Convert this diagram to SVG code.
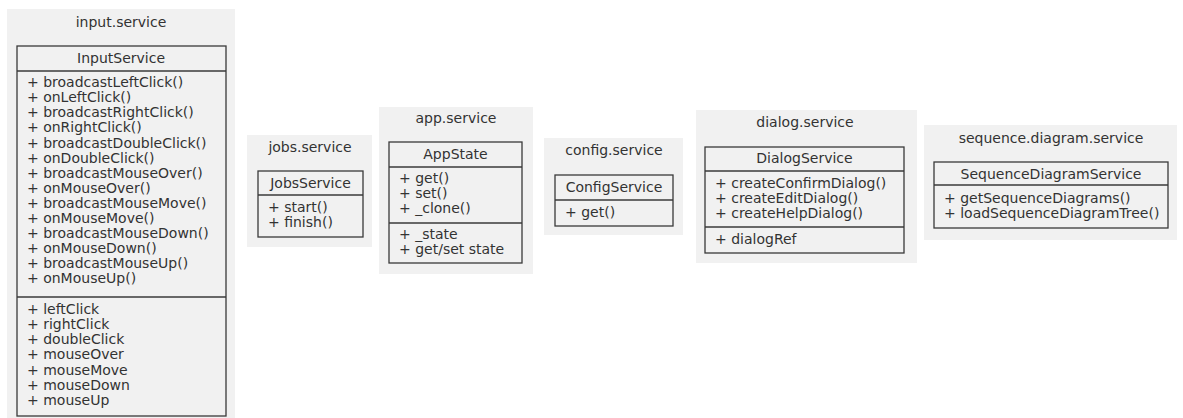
<svg xmlns="http://www.w3.org/2000/svg" width="1183" height="418" viewBox="0 0 1183 418">
<style>
.pkg{fill:#f1f1f1;stroke:none}
.box{fill:#f1f1f1;stroke:#3a3a3a;stroke-width:1.3}
.sep{stroke:#3a3a3a;stroke-width:1.3}
text{font-family:"DejaVu Sans",sans-serif;font-size:14px;fill:#333}
.c{text-anchor:middle}
</style>
<rect width="1183" height="418" fill="#fff"/>
<g id="input-service">
<rect class="pkg" x="7" y="9" width="228" height="412"/>
<text class="c" x="121" y="27">input.service</text>
<rect class="box" x="17" y="46" width="209" height="370"/>
<line class="sep" x1="17" y1="71" x2="226" y2="71"/>
<line class="sep" x1="17" y1="297" x2="226" y2="297"/>
<text class="c" x="121" y="63">InputService</text>
<text x="27" y="87">+ broadcastLeftClick()</text>
<text x="27" y="102">+ onLeftClick()</text>
<text x="27" y="117">+ broadcastRightClick()</text>
<text x="27" y="132">+ onRightClick()</text>
<text x="27" y="147.5">+ broadcastDoubleClick()</text>
<text x="27" y="162.5">+ onDoubleClick()</text>
<text x="27" y="177.5">+ broadcastMouseOver()</text>
<text x="27" y="192.5">+ onMouseOver()</text>
<text x="27" y="208">+ broadcastMouseMove()</text>
<text x="27" y="223">+ onMouseMove()</text>
<text x="27" y="238">+ broadcastMouseDown()</text>
<text x="27" y="253">+ onMouseDown()</text>
<text x="27" y="268">+ broadcastMouseUp()</text>
<text x="27" y="283">+ onMouseUp()</text>
<text x="27" y="314">+ leftClick</text>
<text x="27" y="329">+ rightClick</text>
<text x="27" y="344">+ doubleClick</text>
<text x="27" y="359">+ mouseOver</text>
<text x="27" y="374.5">+ mouseMove</text>
<text x="27" y="389.5">+ mouseDown</text>
<text x="27" y="404.5">+ mouseUp</text>
</g>
<g id="jobs-service">
<rect class="pkg" x="247" y="135" width="125" height="112"/>
<text class="c" x="310" y="152">jobs.service</text>
<rect class="box" x="258" y="171" width="105" height="66"/>
<line class="sep" x1="258" y1="195" x2="363" y2="195"/>
<text class="c" x="310.5" y="188">JobsService</text>
<text x="268" y="211.5">+ start()</text>
<text x="268" y="226.5">+ finish()</text>
</g>
<g id="app-service">
<rect class="pkg" x="379" y="107" width="154" height="167"/>
<text class="c" x="456" y="123">app.service</text>
<rect class="box" x="389" y="142" width="133" height="121"/>
<line class="sep" x1="389" y1="167" x2="522" y2="167"/>
<line class="sep" x1="389" y1="223" x2="522" y2="223"/>
<text class="c" x="455.5" y="159">AppState</text>
<text x="399" y="183">+ get()</text>
<text x="399" y="198">+ set()</text>
<text x="399" y="213">+ _clone()</text>
<text x="399" y="239">+ _state</text>
<text x="399" y="254">+ get/set state</text>
</g>
<g id="config-service">
<rect class="pkg" x="544" y="138" width="139" height="97"/>
<text class="c" x="614" y="155">config.service</text>
<rect class="box" x="555" y="175" width="118" height="51"/>
<line class="sep" x1="555" y1="200" x2="673" y2="200"/>
<text class="c" x="614" y="192">ConfigService</text>
<text x="565" y="217">+ get()</text>
</g>
<g id="dialog-service">
<rect class="pkg" x="696" y="110" width="221" height="153"/>
<text class="c" x="805" y="127">dialog.service</text>
<rect class="box" x="705" y="147" width="199" height="106"/>
<line class="sep" x1="705" y1="171" x2="904" y2="171"/>
<line class="sep" x1="705" y1="227" x2="904" y2="227"/>
<text class="c" x="804.5" y="163">DialogService</text>
<text x="715" y="188">+ createConfirmDialog()</text>
<text x="715" y="203">+ createEditDialog()</text>
<text x="715" y="218">+ createHelpDialog()</text>
<text x="715" y="244">+ dialogRef</text>
</g>
<g id="sequence-diagram-service">
<rect class="pkg" x="924" y="125" width="253" height="115"/>
<text class="c" x="1051" y="143">sequence.diagram.service</text>
<rect class="box" x="934" y="162" width="234" height="66"/>
<line class="sep" x1="934" y1="185" x2="1168" y2="185"/>
<text class="c" x="1051" y="179">SequenceDiagramService</text>
<text x="944" y="203">+ getSequenceDiagrams()</text>
<text x="944" y="218">+ loadSequenceDiagramTree()</text>
</g>
<g id="connectors"></g>
</svg>
